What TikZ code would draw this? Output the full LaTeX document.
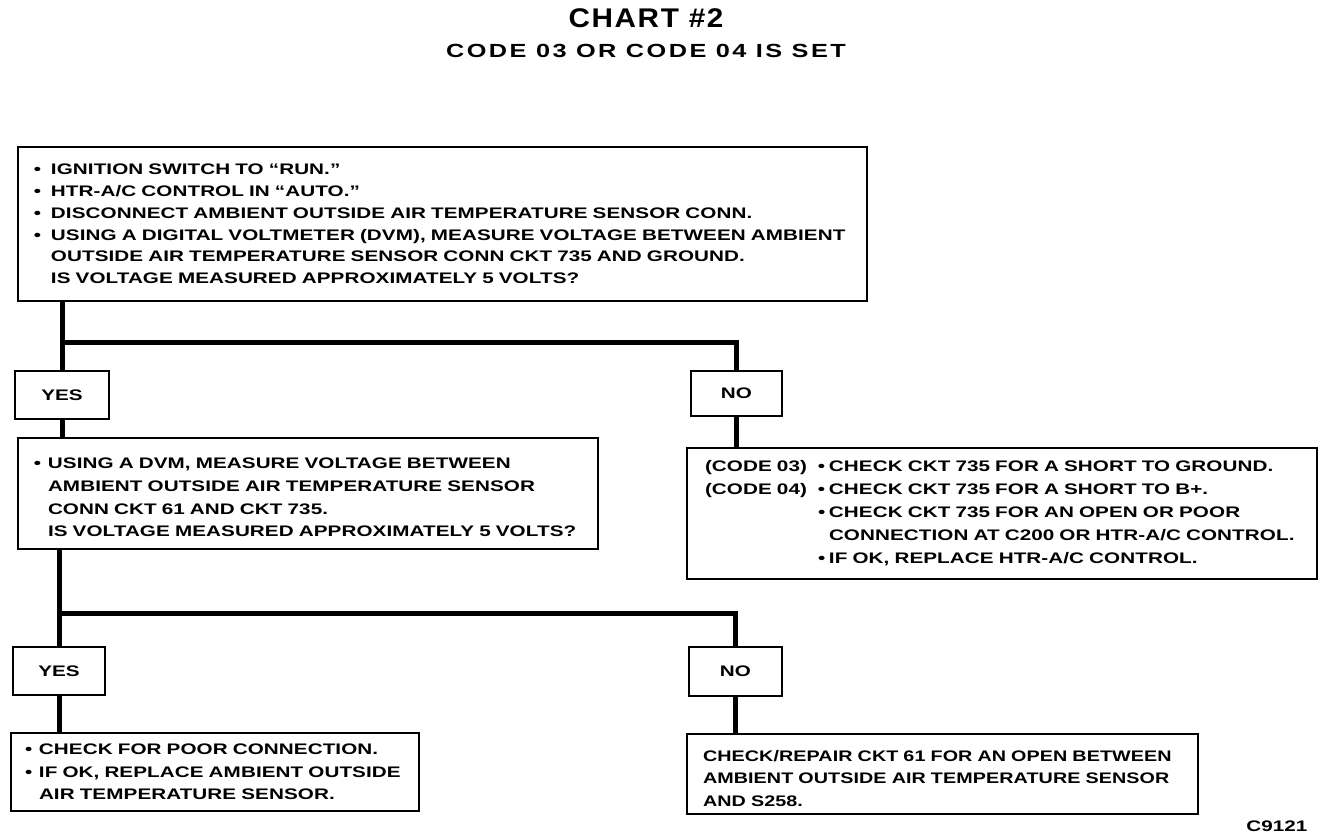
\documentclass[tikz,border=0pt]{standalone}
\usepackage{fontspec}
\newfontfamily\chartfont[FakeStretch=1.35,LetterSpace=0.5]{Liberation Sans}
\newfontfamily\narrowfont[FakeStretch=1.29,LetterSpace=0.5]{Liberation Sans}
\newfontfamily\subfont[FakeStretch=1.33,LetterSpace=13]{Liberation Sans}
\newfontfamily\titlefont[FakeStretch=1.1,LetterSpace=6]{Liberation Sans}
\newcommand\bodyfnt{\chartfont\bfseries\fontsize{15.3}{21.8}\selectfont}
\newcommand\bulletline[2][17pt]{\mbox{\makebox[#1][l]{\textbullet}#2}}
\newcommand\contline[2][17pt]{\mbox{\hspace*{#1}#2}}
\tikzset{
  box/.style={draw, line width=2pt, anchor=north west, inner ysep=0pt, align=left, font=\bodyfnt},
  ans/.style={draw, line width=2pt, anchor=north west, inner sep=0pt, align=center, font=\bodyfnt},
  conn/.style={line width=5pt},
}
\begin{document}
\begin{tikzpicture}[x=1pt,y=-1pt]
\useasboundingbox (0,0) rectangle (1344,836);
\fill[white] (0,0) rectangle (1344,836);

\node[anchor=base, font={\titlefont\bfseries\fontsize{27}{27}\selectfont}] (title) at (646,27) {CHART \#2};
\node[anchor=base, font={\subfont\bfseries\fontsize{19}{19}\selectfont}] (sub) at (646,57) {CODE 03 OR CODE 04 IS SET};

\node[box, inner xsep=16pt, text width=817pt, minimum width=849pt, minimum height=154pt] (b1) at (17,146) {%
\bulletline{IGNITION SWITCH TO “RUN.”}\\
\bulletline{HTR-A/C CONTROL IN “AUTO.”}\\
\bulletline{DISCONNECT AMBIENT OUTSIDE AIR TEMPERATURE SENSOR CONN.}\\
\bulletline{USING A DIGITAL VOLTMETER (DVM), MEASURE VOLTAGE BETWEEN AMBIENT}\\
\contline{OUTSIDE AIR TEMPERATURE SENSOR CONN CKT 735 AND GROUND.}\\
\contline{IS VOLTAGE MEASURED APPROXIMATELY 5 VOLTS?}};

\node[ans, minimum width=94pt, minimum height=48pt] (yes1) at (14,370) {YES};
\node[ans, minimum width=91pt, minimum height=45pt] (no1) at (690,370) {NO};

\node[box, inner xsep=16pt, text width=548pt, minimum width=580pt, minimum height=111pt, font={\bodyfnt\fontsize{15.3}{22.7}\selectfont}] (b2) at (17,437) {%
\rule{0pt}{19pt}\bulletline[14pt]{USING A DVM, MEASURE VOLTAGE BETWEEN}\\
\contline[14pt]{AMBIENT OUTSIDE AIR TEMPERATURE SENSOR}\\
\contline[14pt]{CONN CKT 61 AND CKT 735.}\\
\contline[14pt]{IS VOLTAGE MEASURED APPROXIMATELY 5 VOLTS?}};

\node[box, inner xsep=18pt, text width=594pt, minimum width=630pt, minimum height=131pt, font={\bodyfnt\fontsize{15.3}{23}\selectfont}] (b3) at (686,447) {%
\mbox{\makebox[113pt][l]{(CODE 03)}\makebox[11pt][l]{\textbullet}CHECK CKT 735 FOR A SHORT TO GROUND.}\\
\mbox{\makebox[113pt][l]{(CODE 04)}\makebox[11pt][l]{\textbullet}CHECK CKT 735 FOR A SHORT TO B+.}\\
\mbox{\hspace*{113pt}\makebox[11pt][l]{\textbullet}CHECK CKT 735 FOR AN OPEN OR POOR}\\
\mbox{\hspace*{124pt}CONNECTION AT C200 OR HTR-A/C CONTROL.}\\
\mbox{\hspace*{113pt}\makebox[11pt][l]{\textbullet}IF OK, REPLACE HTR-A/C CONTROL.}};

\node[ans, minimum width=92pt, minimum height=48pt] (yes2) at (12,646) {YES};
\node[ans, minimum width=93pt, minimum height=49pt] (no2) at (688,646) {NO};

\node[box, inner xsep=14pt, text width=380pt, minimum width=408pt, minimum height=78pt, font={\bodyfnt\fontsize{15.3}{22.5}\selectfont}] (b4) at (10,732) {%
\bulletline[14pt]{CHECK FOR POOR CONNECTION.}\\
\bulletline[14pt]{IF OK, REPLACE AMBIENT OUTSIDE}\\
\contline[14pt]{AIR TEMPERATURE SENSOR.}};

\node[box, inner xsep=16pt, text width=479pt, minimum width=511pt, minimum height=80pt, font={\narrowfont\bfseries\fontsize{15.3}{22.5}\selectfont}] (b5) at (686,733) {%
\rule{0pt}{20pt}\mbox{CHECK/REPAIR CKT 61 FOR AN OPEN BETWEEN}\\
\mbox{AMBIENT OUTSIDE AIR TEMPERATURE SENSOR}\\
\mbox{AND S258.}};

\node[anchor=base east, font={\bodyfnt}] (ref) at (1311,831) {C9121};

\coordinate (j1) at (61,342);
\coordinate (j2) at (58,613);
\draw[conn] (b1.south -| yes1.north) -- (yes1.north);
\draw[conn] (j1) -| (no1.north);
\draw[conn] (yes1.south) -- (yes1.south |- b2.north);
\draw[conn] (no1.south) -- (no1.south |- b3.north);
\draw[conn] (b2.south -| yes2.north) -- (yes2.north);
\draw[conn] (j2) -| (no2.north);
\draw[conn] (yes2.south) -- (yes2.south |- b4.north);
\draw[conn] (no2.south) -- (no2.south |- b5.north);
\end{tikzpicture}
\end{document}
